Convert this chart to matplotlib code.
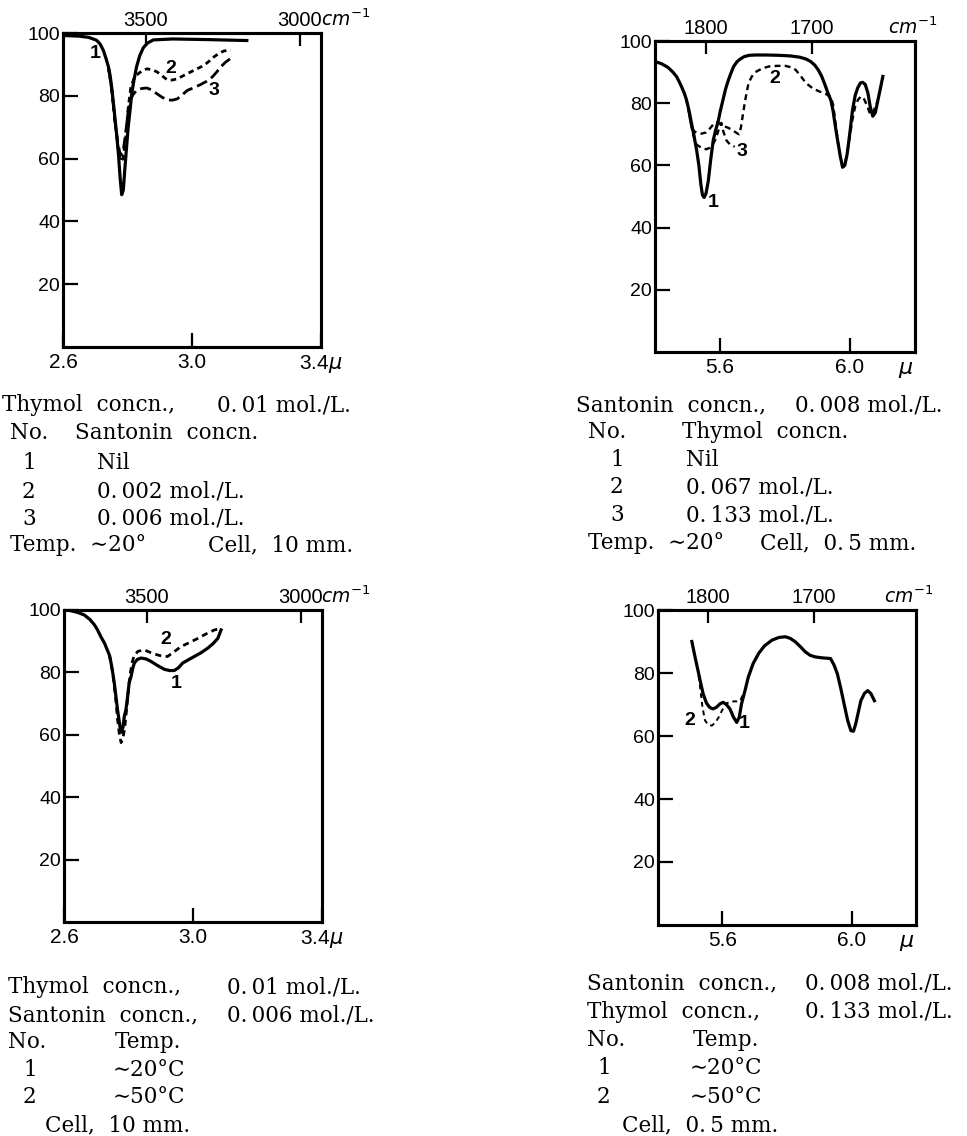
import numpy as np
import matplotlib.pyplot as plt
from matplotlib.transforms import blended_transform_factory

plt.rcParams['font.family'] = ['Liberation Sans', 'DejaVu Sans']
plt.rcParams['mathtext.fontset'] = 'dejavusans'

# ---- data (x in micron, y in % transmission) ----
y_ticks = [20, 40, 60, 80, 100]

# top left: thymol 0.01 mol/L, santonin added
a1_x = [2.60, 2.65, 2.68, 2.704, 2.715, 2.725, 2.733, 2.741, 2.746, 2.751, 2.756, 2.761, 2.767, 2.772,
        2.777, 2.782, 2.787, 2.792, 2.797, 2.802, 2.808, 2.813, 2.82, 2.828, 2.838, 2.849, 2.862, 2.88,
        2.94, 3.05, 3.17]
a1_y = [99.2, 99.0, 98.6, 97.7, 96.5, 94.5, 92, 89.2, 86.5, 82.7, 78, 73, 67, 61.3,
        54, 48.5, 50, 57, 63.5, 69.9, 75.5, 80.6, 85, 89.2, 92.8, 95.3, 96.8, 97.8,
        98.1, 97.9, 97.6]
a2_x = [2.741, 2.751, 2.761, 2.77, 2.778, 2.786, 2.794, 2.802, 2.81, 2.819, 2.828, 2.843, 2.86, 2.876,
        2.892, 2.908, 2.923, 2.938, 2.954, 2.975, 2.996, 3.016, 3.037, 3.053, 3.068, 3.084, 3.099, 3.12]
a2_y = [89, 82, 72, 64, 59, 60, 66, 76, 82.5, 85.2, 86.6, 87.8, 88.6, 88.3,
        87.6, 86.3, 85.1, 85, 85.4, 86.5, 87.6, 88.6, 89.7, 91, 92.4, 93.5, 94.3, 94.5]
a3_x = [2.741, 2.751, 2.761, 2.77, 2.778, 2.786, 2.794, 2.802, 2.808, 2.818, 2.828, 2.843, 2.86, 2.876,
        2.892, 2.908, 2.923, 2.938, 2.954, 2.97, 2.985, 3.006, 3.027, 3.045, 3.063, 3.076, 3.089, 3.105, 3.12]
a3_y = [89, 82, 72, 65, 61, 62, 68, 75, 78.5, 80.5, 81.7, 82.3, 82.5, 81.8,
        80.6, 79.5, 78.7, 78.6, 79, 80.3, 81.7, 82.6, 83.6, 84.6, 86, 87.5, 89.2, 90.8, 91.9]

# top right: santonin 0.008 mol/L, thymol added
b1_x = [5.40, 5.42, 5.44, 5.455, 5.466, 5.476, 5.485, 5.491, 5.497, 5.505, 5.512, 5.52, 5.528, 5.535,
        5.541, 5.546, 5.551, 5.557, 5.564, 5.571, 5.579, 5.587, 5.594, 5.601, 5.609, 5.617, 5.625, 5.633,
        5.642, 5.652, 5.662, 5.675, 5.69, 5.71, 5.74, 5.78, 5.817, 5.845, 5.865, 5.879, 5.892, 5.903,
        5.913, 5.922, 5.931, 5.941, 5.948, 5.955, 5.962, 5.97, 5.977, 5.984, 5.991, 5.999, 6.008, 6.016,
        6.024, 6.032, 6.039, 6.047, 6.055, 6.062, 6.07, 6.078, 6.086, 6.094, 6.101]
b1_y = [93.4, 92.7, 91.5, 90, 88.6, 86.6, 84.5, 83, 81, 77.5, 73.7, 69.5, 65, 60,
        54, 50.5, 49.7, 51, 55, 61.5, 68, 71.5, 74, 77.5, 81, 84.5, 87.2, 89.5,
        91.8, 93.3, 94.2, 95, 95.4, 95.5, 95.5, 95.4, 95.2, 94.8, 94.2, 93.4, 92.2, 90.6,
        88.6, 86.2, 83.6, 81, 77.5, 72.5, 68, 63, 59.4, 60, 63.5, 70, 78, 82.5,
        85, 86.5, 86.7, 86, 83.3, 79, 75.8, 77, 81, 85, 88.6]
b2_x = [5.485, 5.497, 5.505, 5.512, 5.52, 5.528, 5.543, 5.557, 5.57, 5.578, 5.585, 5.594, 5.603, 5.615,
        5.627, 5.64, 5.65, 5.658, 5.664, 5.67, 5.676, 5.682, 5.688, 5.698, 5.709, 5.73, 5.75, 5.775,
        5.802, 5.82, 5.833, 5.848, 5.864, 5.885, 5.905, 5.925, 5.941, 5.948, 5.955, 5.962, 5.97, 5.977,
        5.984, 5.991, 5.999, 6.008, 6.016, 6.024, 6.032, 6.04, 6.047, 6.055, 6.062, 6.07, 6.078, 6.086]
b2_y = [84.5, 81, 76.5, 72.5, 71, 70.5, 70.2, 70.6, 72, 73, 73.9, 73.8, 73.2, 72.5,
        72, 71.2, 70.5, 70, 72, 76, 80, 83.5, 86.5, 88.6, 90, 91.2, 91.8, 92,
        92, 91.5, 90.7, 88.8, 86.5, 84.8, 83.8, 83, 82, 79.5, 74, 68, 63, 60,
        60.5, 63.5, 69, 75, 79, 81, 82, 82, 80.5, 78.5, 76.5, 76.5, 79, 81]
b3_x = [5.505, 5.512, 5.52, 5.528, 5.545, 5.557, 5.568, 5.578, 5.586, 5.596, 5.604, 5.61, 5.62, 5.631, 5.645]
b3_y = [76.5, 72.5, 69, 66.7, 65.5, 65.2, 65.6, 66.8, 68.3, 71.5, 73.7, 71, 68, 66.7, 66]

# bottom left: temperature effect, O-H region
c1_x = [2.60, 2.62, 2.643, 2.663, 2.68, 2.694, 2.704, 2.714, 2.725, 2.735, 2.741, 2.746, 2.751, 2.756,
        2.761, 2.766, 2.771, 2.775, 2.779, 2.783, 2.787, 2.792, 2.797, 2.802, 2.808, 2.813, 2.818, 2.828,
        2.839, 2.855, 2.87, 2.89, 2.911, 2.927, 2.942, 2.955, 2.968, 2.985, 3.004, 3.025, 3.046, 3.062,
        3.077, 3.087]
c1_y = [100, 99.8, 99.2, 98.4, 97, 95.3, 93.6, 91.5, 89.5, 87, 85.5, 83, 80, 76.5,
        72.3, 68, 64.5, 61.7, 60.8, 62.5, 65.9, 68, 72, 76.6, 78.7, 81.2, 83, 84.2,
        84.6, 84.3, 83.5, 82.2, 81, 80.6, 80.6, 81.5, 83, 84, 85.1, 86.3, 87.8, 89.2,
        90.9, 93.6]
c2_x = [2.741, 2.751, 2.76, 2.766, 2.772, 2.777, 2.782, 2.788, 2.794, 2.8, 2.806, 2.812, 2.818, 2.83,
        2.849, 2.87, 2.89, 2.905, 2.921, 2.94, 2.963, 2.99, 3.015, 3.04, 3.066, 3.087]
c2_y = [85.5, 80, 72, 65, 60, 57.5, 58.5, 62, 68, 75, 80, 83.5, 85.5, 86.8,
        87.2, 86.3, 85.6, 85.2, 85.1, 86.5, 88.3, 89.6, 90.9, 92.3, 93.6, 94.1]

# bottom right: temperature effect, C=O region
d1_x = [5.505, 5.515, 5.524, 5.532, 5.54, 5.55, 5.56, 5.57, 5.581, 5.592, 5.602, 5.612, 5.623, 5.634,
        5.644, 5.652, 5.659, 5.67, 5.68, 5.695, 5.712, 5.73, 5.753, 5.775, 5.795, 5.81, 5.826, 5.842,
        5.857, 5.872, 5.888, 5.91, 5.935, 5.946, 5.956, 5.967, 5.977, 5.988, 5.998, 6.006, 6.013, 6.021,
        6.029, 6.04, 6.05, 6.06, 6.071]
d1_y = [90, 85, 80.8, 77, 73.4, 70.5, 69.1, 68.6, 69.1, 70.2, 70.7, 70, 68.6, 66,
        64.3, 66, 70.2, 74.5, 78.7, 83, 86.2, 88.6, 90.4, 91.3, 91.5, 91, 89.9, 88.3,
        86.7, 85.6, 85.1, 84.8, 84.6, 82.5, 79.8, 75, 70.2, 65, 61.7, 61.5, 63.8, 67.5,
        71.2, 73.5, 74.4, 73.5, 71.2]
d2_x = [5.505, 5.515, 5.524, 5.53, 5.538, 5.546, 5.556, 5.567, 5.578, 5.588, 5.598, 5.609, 5.62, 5.635,
        5.645, 5.655, 5.665]
d2_y = [90, 85, 80.8, 76, 69, 64.9, 63.5, 63.3, 64.3, 65.9, 68, 70.2, 70.7, 71,
        71, 71.2, 73.5]

W, H = 967, 1136
fig = plt.figure(figsize=(W / 100, H / 100), dpi=100)


def panel(l, t, r, b, xlim, xticks, xlabels, top_wn, cm_x):
    ax = fig.add_axes([l / W, 1 - b / H, (r - l) / W, (b - t) / H])
    ax.set_xlim(xlim)
    ax.set_ylim(0, 100)
    ax.set_yticks(y_ticks)
    ax.set_xticks(xticks)
    ax.set_xticklabels(xlabels)
    ax.tick_params(axis='y', direction='in', length=11, width=1.6, labelsize=14, pad=2)
    ax.tick_params(axis='x', direction='in', length=10, width=1.6, labelsize=15, pad=4)
    for s in ax.spines.values():
        s.set_linewidth(2.2)
    top = ax.twiny()
    top.set_xlim(xlim)
    top.set_xticks(1e4 / np.array(top_wn, dtype=float))
    top.set_xticklabels([str(w) for w in top_wn])
    top.tick_params(direction='in', length=9, width=1.6, labelsize=14.5, pad=2)
    for s in top.spines.values():
        s.set_linewidth(2.2)
    ax.text(cm_x, 1.01, r'$cm^{-1}$', transform=ax.transAxes, fontsize=13.5,
            ha='left', va='bottom')
    return ax


def num(ax, x, y, s):
    ax.text(x, y, s, fontsize=14, fontweight='bold', ha='center', va='center')


serif = ['DejaVu Serif', 'DejaVu Sans']


def note(x, y, s):
    fig.text(x / W, 1 - y / H, s, fontsize=15.5, family=serif, ha='left', va='center')


lw = 2.0

# ---- top left ----
ax = panel(63, 33, 321, 347, (2.6, 3.4), [2.6, 3.0, 3.4], ['2.6', '3.0', '3.4$\\mu$'],
           [3500, 3000], 1.0)
ax.plot(a3_x, a3_y, color='black', lw=lw, dashes=(4, 1.8))
ax.plot(a2_x, a2_y, color='black', lw=lw, dashes=(2, 1.5))
ax.plot(a1_x, a1_y, color='black', lw=lw + 0.3)
num(ax, 2.70, 93.5, '1')
num(ax, 2.933, 88.8, '2')
num(ax, 3.068, 81.8, '3')

# ---- top right ----
ax = panel(655, 41, 915, 352, (5.4, 6.2), [5.6, 6.0], ['5.6', '6.0'], [1800, 1700], 0.895)
ax.text(6.17, -0.022, r'$\mu$', transform=blended_transform_factory(ax.transData, ax.transAxes),
        fontsize=16, ha='center', va='top')
ax.plot(b3_x, b3_y, color='black', lw=lw - 0.3, dashes=(2.5, 1.8))
ax.plot(b2_x, b2_y, color='black', lw=lw - 0.3, dashes=(2.5, 1.8))
ax.plot(b1_x, b1_y, color='black', lw=lw + 0.3)
num(ax, 5.579, 48, '1')
num(ax, 5.767, 88, '2')
num(ax, 5.668, 64.5, '3')

# ---- bottom left ----
ax = panel(64, 610, 322, 922, (2.6, 3.4), [2.6, 3.0, 3.4], ['2.6', '3.0', '3.4$\\mu$'],
           [3500, 3000], 0.995)
ax.plot(c2_x, c2_y, color='black', lw=lw, dashes=(2.2, 1.6))
ax.plot(c1_x, c1_y, color='black', lw=lw + 0.3)
num(ax, 2.916, 90.4, '2')
num(ax, 2.947, 76.6, '1')

# ---- bottom right ----
ax = panel(658, 610, 916, 925, (5.4, 6.2), [5.6, 6.0], ['5.6', '6.0'], [1800, 1700], 0.875)
ax.text(6.17, -0.022, r'$\mu$', transform=blended_transform_factory(ax.transData, ax.transAxes),
        fontsize=16, ha='center', va='top')
ax.plot(d2_x, d2_y, color='black', lw=lw - 0.6, dashes=(2.5, 2))
ax.plot(d1_x, d1_y, color='black', lw=lw + 0.3)
num(ax, 5.497, 65, '2')
num(ax, 5.666, 64, '1')

# ---- captions ----
ts = '\u2009'
note(2, 405, 'Thymol  concn.,')
note(217, 405, '0.' + ts + '01 mol./L.')
note(10, 433, 'No.')
note(75, 433, 'Santonin  concn.')
note(22, 463, '1')
note(97, 463, 'Nil')
note(22, 492, '2')
note(97, 492, '0.' + ts + '002 mol./L.')
note(22, 519, '3')
note(97, 519, '0.' + ts + '006 mol./L.')
note(10, 545, 'Temp.  \u223c20\u00b0')
note(208, 545, 'Cell,  10 mm.')

note(576, 405, 'Santonin  concn.,')
note(795, 405, '0.' + ts + '008 mol./L.')
note(588, 432, 'No.')
note(682, 432, 'Thymol  concn.')
note(610, 460, '1')
note(686, 460, 'Nil')
note(610, 487, '2')
note(686, 487, '0.' + ts + '067 mol./L.')
note(610, 515, '3')
note(686, 515, '0.' + ts + '133 mol./L.')
note(588, 543, 'Temp.  \u223c20\u00b0')
note(760, 543, 'Cell,  0.' + ts + '5 mm.')

note(8, 987, 'Thymol  concn.,')
note(227, 987, '0.' + ts + '01 mol./L.')
note(8, 1015, 'Santonin  concn.,')
note(227, 1015, '0.' + ts + '006 mol./L.')
note(8, 1042, 'No.')
note(115, 1042, 'Temp.')
note(23, 1070, '1')
note(113, 1070, '\u223c20\u00b0C')
note(23, 1097, '2')
note(113, 1097, '\u223c50\u00b0C')
note(45, 1125, 'Cell,  10 mm.')

note(587, 983, 'Santonin  concn.,')
note(805, 983, '0.' + ts + '008 mol./L.')
note(587, 1012, 'Thymol  concn.,')
note(805, 1012, '0.' + ts + '133 mol./L.')
note(587, 1040, 'No.')
note(693, 1040, 'Temp.')
note(597, 1068, '1')
note(690, 1068, '\u223c20\u00b0C')
note(597, 1097, '2')
note(690, 1097, '\u223c50\u00b0C')
note(622, 1125, 'Cell,  0.' + ts + '5 mm.')

fig.savefig('out.png', dpi=100)
